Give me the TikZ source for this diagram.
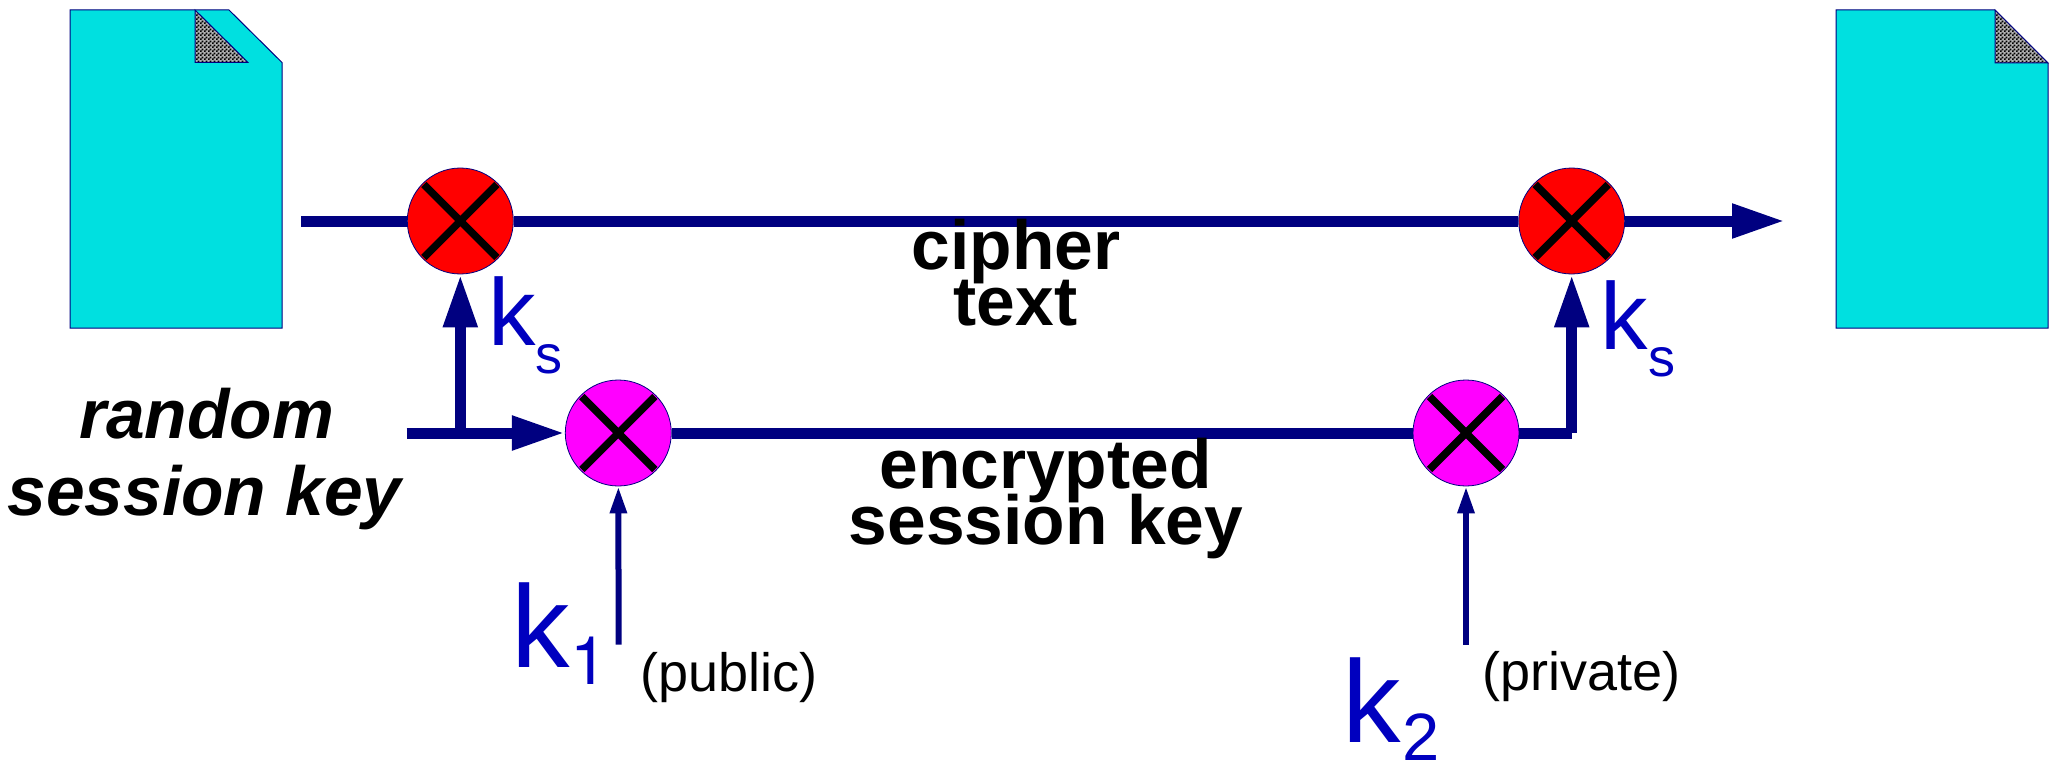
\documentclass[tikz,border=0pt]{standalone}
\usepackage{fontspec}
\setmainfont{Liberation Sans}
\newfontfamily\herosfont{TeX Gyre Heros}
\usetikzlibrary{arrows.meta,patterns,backgrounds}
\definecolor{navyline}{HTML}{000080}
\definecolor{keyblue}{HTML}{0000BF}
\definecolor{doccyan}{HTML}{00E0E0}
\definecolor{mixmagenta}{HTML}{FF00FF}
\definecolor{foldgray}{HTML}{B0B0B0}
\pgfdeclarepatternformonly{finecheck}{\pgfqpoint{0pt}{0pt}}{\pgfqpoint{4pt}{4pt}}{\pgfqpoint{4pt}{4pt}}{%
  \pgfpathrectangle{\pgfqpoint{0pt}{0pt}}{\pgfqpoint{2pt}{2pt}}%
  \pgfpathrectangle{\pgfqpoint{2pt}{2pt}}{\pgfqpoint{2pt}{2pt}}%
  \pgfusepath{fill}}
\tikzset{
  docshape/.style={draw=navyline,line width=1pt,fill=doccyan,line join=miter},
  foldshape/.style={fill=foldgray,postaction={pattern=finecheck,pattern color=black},postaction={draw=navyline,line width=1pt}},
  xcircle/.style={circle,draw=navyline,line width=0.8pt,inner sep=0pt,minimum size=106pt,
    path picture={
      \draw[black,line width=7.5pt] (path picture bounding box.center) +(-36.5,-36.5) -- +(36.5,36.5);
      \draw[black,line width=7.5pt] (path picture bounding box.center) +(-36.5,36.5) -- +(36.5,-36.5);
    }},
  redx/.style={xcircle,fill=red},
  magx/.style={xcircle,fill=mixmagenta},
  wire/.style={draw=navyline,line width=11pt},
  bigarrow/.style={wire,-{Triangle[length=53pt,width=32pt]}},
  smallarrow/.style={draw=navyline,line width=6pt,-{Triangle[length=27pt,width=16pt]}},
  lbl/.style={inner sep=0pt,anchor=base},
  lblw/.style={inner sep=0pt,anchor=base west},
  boldlbl/.style={lbl,font=\fontsize{69.5}{70}\selectfont\bfseries,text=black},
  italbl/.style={lbl,font=\fontsize{69.5}{70}\selectfont\bfseries\itshape,text=black},
  smalllbl/.style={lblw,font=\fontsize{54}{54}\selectfont,text=black},
  kbase/.style={lblw,text=keyblue,font=\fontsize{95}{95}\selectfont},
  ksub/.style={lblw,text=keyblue,font=\fontsize{54}{54}\selectfont},
  kbig/.style={lblw,text=keyblue,font=\fontsize{117}{117}\selectfont},
  kbigsub/.style={lblw,text=keyblue,font=\fontsize{67}{67}\selectfont},
}
\begin{document}
\begin{tikzpicture}[x=1pt,y=-1pt]
\useasboundingbox (0,0) rectangle (2054,760);
% documents
\path[docshape] (70,10) -- (229,10) -- (282,62.5) -- (282,328) -- (70,328) -- cycle;
\path[foldshape] (195,10) -- (248,62.5) -- (195,62.5) -- cycle;
\path[docshape] (1836,10) -- (1995,10) -- (2048,63) -- (2048,328) -- (1836,328) -- cycle;
\path[foldshape] (1995,10) -- (2048,63) -- (1995,63) -- cycle;
% mixers
\node[redx] (redA) at (460.3,221) {};
\node[redx] (redB) at (1571.7,221) {};
\node[magx] (magA) at (618.3,433) {};
\node[magx] (magB) at (1466,433) {};
% free ends
\coordinate (plainStart) at (301,221);
\coordinate (outEnd) at (1785,221);
\coordinate (keyStart) at (406.7,433);
\coordinate (keyJoin) at (460.3,433);
\coordinate (corner) at (1571.7,433);
\coordinate (pubStart) at (618.6,644.7);
\coordinate (privStart) at (1466,644.7);
\begin{pgfonlayer}{background}
\draw[wire] (plainStart) -- (redA);
\draw[wire] (redA) -- (redB);
\draw[bigarrow] (redB) -- (outEnd);
\draw[bigarrow] (keyStart) -- (magA);
\draw[bigarrow] (keyJoin) -- (redA);
\draw[wire] (magA) -- (magB);
\draw[wire] (magB) -- (corner);
\draw[bigarrow] (corner) -- (redB);
\draw[smallarrow] (pubStart) -- (magA);
\draw[smallarrow] (privStart) -- (magB);
\end{pgfonlayer}
% labels
\node[boldlbl] (cipherL) at (1016,269) {cipher};
\node[boldlbl] (textL) at (1015.5,325) {text};
\node[boldlbl] (encL) at (1045.5,488) {encrypted};
\node[boldlbl] (sessL) at (1046,544) {session key};
\node[italbl] (randL) at (206.5,438) {random};
\node[italbl] (rsessL) at (204.5,515) {session key};
\node[kbase] (ksA) at (488,345) {k};
\node[ksub] (ssA) at (535,373) {s};
\node[kbase] (ksB) at (1600.5,349) {k};
\node[ksub] (ssB) at (1648,376.7) {s};
\node[kbig] (kA) at (511,667) {k};
\node[kbigsub,font=\fontsize{67}{67}\selectfont\herosfont] (oneL) at (570,684) {1};
\node[kbig] (kB) at (1342,742.7) {k};
\node[kbigsub] (twoL) at (1402,760) {2};
\node[smalllbl] (pubL) at (640,691.7) {(public)};
\node[smalllbl] (privL) at (1482,690.7) {(private)};
\end{tikzpicture}
\end{document}
